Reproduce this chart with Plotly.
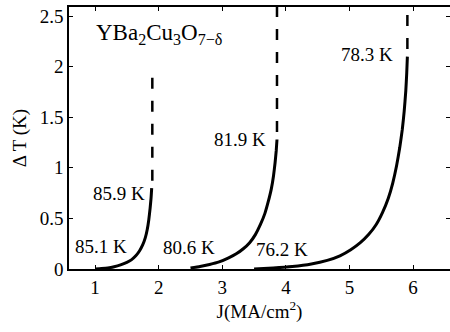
import plotly.graph_objects as go

# Curve data (J in MA/cm^2, dT in K)
j1 = [1.00, 1.10, 1.20, 1.30, 1.40, 1.50, 1.57, 1.64, 1.70, 1.75, 1.79, 1.82, 1.845, 1.865, 1.88, 1.89]
t1 = [0.00, 0.004, 0.01, 0.022, 0.04, 0.065, 0.09, 0.13, 0.18, 0.24, 0.31, 0.39, 0.49, 0.60, 0.70, 0.80]

j2 = [2.50, 2.65, 2.80, 2.95, 3.10, 3.22, 3.33, 3.43, 3.52, 3.60, 3.67, 3.72, 3.77, 3.805, 3.83, 3.848, 3.86]
t2 = [0.01, 0.025, 0.045, 0.07, 0.11, 0.15, 0.20, 0.26, 0.34, 0.44, 0.55, 0.66, 0.79, 0.92, 1.05, 1.17, 1.28]

j3 = [3.50, 3.80, 4.10, 4.40, 4.65, 4.85, 5.02, 5.17, 5.30, 5.42, 5.52, 5.61, 5.68, 5.74, 5.79, 5.83, 5.86, 5.885, 5.90, 5.91]
t3 = [0.00, 0.01, 0.025, 0.05, 0.085, 0.13, 0.19, 0.26, 0.34, 0.44, 0.56, 0.70, 0.85, 1.02, 1.20, 1.38, 1.56, 1.76, 1.94, 2.10]

# Dashed vertical continuations
dash_j = [1.90, 3.86, 5.91]
dash_lo = [0.80, 1.28, 2.10]
dash_hi = [1.89, 2.60, 2.51]

# Temperature labels
lab_text = ["85.1 K", "85.9 K", "80.6 K", "81.9 K", "76.2 K", "78.3 K"]
lab_j = [1.10, 1.37, 2.48, 3.28, 3.94, 5.27]
lab_t = [0.22, 0.75, 0.21, 1.28, 0.19, 2.12]

xticks = [1, 2, 3, 4, 5, 6]
yticks = [0, 0.5, 1, 1.5, 2, 2.5]
ytick_text = ["0", "0.5", "1", "1.5", "2", "2.5"]

FONT = "Liberation Serif"

fig = go.Figure()
for jj, tt in [(j1, t1), (j2, t2), (j3, t3)]:
    fig.add_trace(go.Scatter(x=jj, y=tt, mode="lines",
                             line=dict(color="black", width=3, shape="spline", smoothing=0.4),
                             showlegend=False, hoverinfo="skip"))
for xj, lo, hi in zip(dash_j, dash_lo, dash_hi):
    fig.add_trace(go.Scatter(x=[xj, xj], y=[hi, lo], mode="lines",
                             line=dict(color="black", width=2.5, dash="11px,12px"),
                             showlegend=False, hoverinfo="skip"))

for txt, xj, yt in zip(lab_text, lab_j, lab_t):
    fig.add_annotation(x=xj, y=yt, xref="x", yref="y", text=txt, showarrow=False,
                       font=dict(family=FONT, size=19, color="black"))

fig.add_annotation(x=0.98, y=2.32, xref="x", yref="y", xanchor="left",
                   text="YBa<sub>2</sub>Cu<sub>3</sub>O<sub>7−δ</sub>", showarrow=False,
                   font=dict(family=FONT, size=23, color="black"))

axis_common = dict(showline=True, linecolor="black", linewidth=1.5, mirror="allticks",
                   ticks="inside", ticklen=4, tickwidth=1, tickcolor="black",
                   showgrid=False, zeroline=False, automargin=False,
                   tickfont=dict(family=FONT, size=19, color="black"))

fig.update_xaxes(range=[0.59, 6.58], tickvals=xticks,
                 title=dict(text="J(MA/cm<sup>2</sup>)", font=dict(family=FONT, size=19, color="black"),
                            standoff=7),
                 **axis_common)
fig.update_yaxes(range=[0, 2.59], tickvals=yticks, ticktext=ytick_text,
                 title=dict(text="Δ T (K)", font=dict(family=FONT, size=19, color="black"),
                            standoff=8),
                 **axis_common)

fig.update_layout(width=450, height=332, margin=dict(l=69, r=0, t=7, b=63, autoexpand=False),
                  plot_bgcolor="white", paper_bgcolor="white",
                  font=dict(family=FONT, size=19, color="black"))

fig.write_html("out.html", config={"responsive": False, "displayModeBar": False},
               post_script="document.body.style.margin='0';document.body.style.overflow='hidden';")
